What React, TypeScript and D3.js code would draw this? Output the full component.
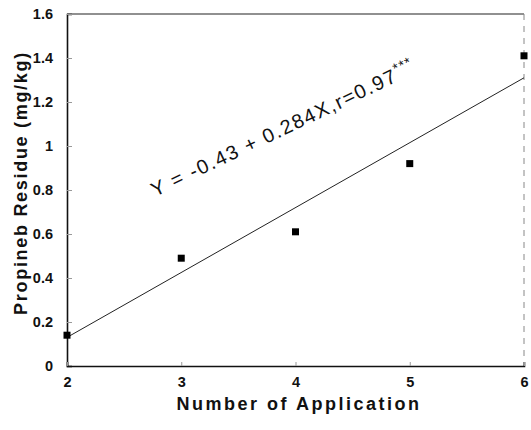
import { useEffect, useRef } from "react";
import * as d3 from "d3";

// observed residues per number of applications
const applications = [2, 3, 4, 5, 6];
const residues = [0.14, 0.49, 0.61, 0.92, 1.41];

// fitted line end points as drawn in the figure
const fitX = [2, 6];
const fitY = [0.13, 1.31];

const xTicks = [2, 3, 4, 5, 6];
const yTicks = [0, 0.2, 0.4, 0.6, 0.8, 1, 1.2, 1.4, 1.6];

const W = 531,
  H = 430;
const margin = { top: 14, right: 7, bottom: 64, left: 67 };
const FONT = "'Liberation Sans', Arial, Helvetica, sans-serif";

const App = () => {
  const ref = useRef<SVGSVGElement>(null);

  useEffect(() => {
    if (!ref.current) return;
    const svg = d3.select(ref.current);
    svg.selectAll("*").remove();

    const width = W - margin.left - margin.right;
    const height = H - margin.top - margin.bottom;

    const x = d3.scaleLinear().domain([2, 6]).range([0, width]);
    const y = d3.scaleLinear().domain([0, 1.6]).range([height, 0]);

    const g = svg
      .append("g")
      .attr("transform", "translate(" + margin.left + "," + margin.top + ")");

    // frame: top solid, right faint dashed
    g.append("line")
      .attr("x1", 0)
      .attr("x2", width)
      .attr("y1", 0)
      .attr("y2", 0)
      .attr("stroke", "#222")
      .attr("stroke-width", 1.2);
    g.append("line")
      .attr("x1", width)
      .attr("x2", width)
      .attr("y1", 0)
      .attr("y2", height)
      .attr("stroke", "#888")
      .attr("stroke-width", 1)
      .attr("stroke-dasharray", "6,6");

    // y axis
    const yAxis = g
      .append("g")
      .call(
        d3
          .axisLeft(y)
          .tickValues(yTicks)
          .tickSize(-5)
          .tickPadding(14)
          .tickFormat((d) => d3.format("")(+d))
      );
    yAxis.select(".domain").attr("stroke", "#111").attr("stroke-width", 1.6);
    yAxis.selectAll(".tick line").attr("stroke", "#999");
    yAxis
      .selectAll(".tick text")
      .attr("font-family", FONT)
      .attr("font-size", 14.5)
      .attr("font-weight", "bold")
      .attr("fill", "#111");

    // x axis
    const xAxis = g
      .append("g")
      .attr("transform", "translate(0," + height + ")")
      .call(
        d3
          .axisBottom(x)
          .tickValues(xTicks)
          .tickSize(-4)
          .tickPadding(11)
          .tickFormat(d3.format("d"))
      );
    xAxis.select(".domain").attr("stroke", "#111").attr("stroke-width", 1.6);
    xAxis.selectAll(".tick line").attr("stroke", "#999");
    xAxis
      .selectAll(".tick text")
      .attr("font-family", FONT)
      .attr("font-size", 14.5)
      .attr("font-weight", "bold")
      .attr("fill", "#111");

    // regression line
    g.append("path")
      .datum(fitX.map((d, i) => [d, fitY[i]]))
      .attr(
        "d",
        d3
          .line()
          .x((d) => x(d[0]))
          .y((d) => y(d[1]))
      )
      .attr("fill", "none")
      .attr("stroke", "#222")
      .attr("stroke-width", 1);

    // points
    g.append("g")
      .selectAll("rect")
      .data(applications.map((d, i) => ({ a: d, r: residues[i] })))
      .enter()
      .append("rect")
      .attr("x", (d) => x(d.a) - 3.5)
      .attr("y", (d) => y(d.r) - 3.5)
      .attr("width", 7)
      .attr("height", 7)
      .attr("fill", "#000");

    // equation
    const eq = g
      .append("text")
      .attr(
        "transform",
        "translate(" + (155 - margin.left) + "," + (197 - margin.top) + ") rotate(-25.5)"
      )
      .attr("font-family", FONT)
      .attr("font-size", 20)
      .attr("letter-spacing", 1.6)
      .attr("fill", "#111");
    eq.append("tspan").text("Y = -0.43 + 0.284X,r=0.97");
    eq.append("tspan")
      .attr("dy", -8)
      .attr("font-size", 14)
      .attr("letter-spacing", 1)
      .text("***");

    // axis titles
    svg
      .append("text")
      .attr("x", 299)
      .attr("y", 410)
      .attr("text-anchor", "middle")
      .attr("font-family", FONT)
      .attr("font-size", 18)
      .attr("letter-spacing", 2.5)
      .attr("font-weight", "bold")
      .attr("fill", "#111")
      .text("Number of Application");

    svg
      .append("text")
      .attr("transform", "translate(27,183) rotate(-90)")
      .attr("text-anchor", "middle")
      .attr("font-family", FONT)
      .attr("font-size", 18)
      .attr("letter-spacing", 1.7)
      .attr("font-weight", "bold")
      .attr("fill", "#111")
      .text("Propineb Residue (mg/kg)");
  }, []);

  return (
    <svg
      ref={ref}
      width={W}
      height={H}
      style={{ position: "fixed", left: 0, top: 0, background: "#fff" }}
    />
  );
};

export default App;
